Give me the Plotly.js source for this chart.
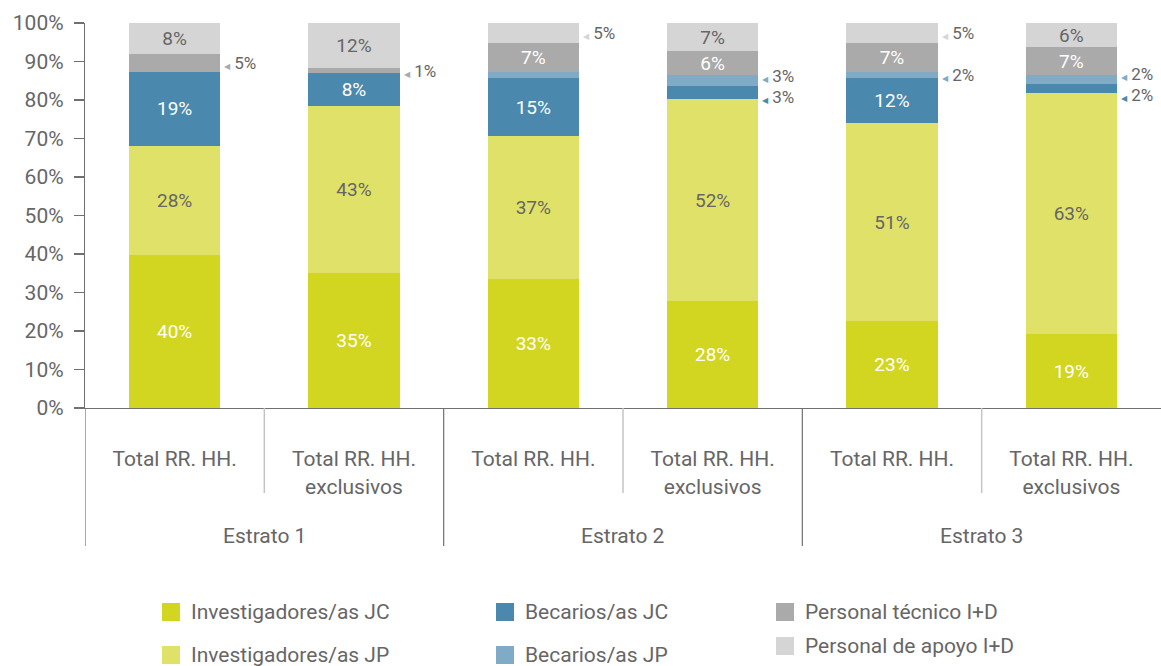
<!DOCTYPE html>
<html>
<head>
<meta charset="utf-8">
<script src="https://cdn.plot.ly/plotly-3.0.1.min.js"></script>
<style>
  html, body { margin: 0; padding: 0; background: #ffffff; }
  #chart { width: 1161px; height: 666px; }
</style>
</head>
<body>
<div id="chart"></div>
<script>
// ---- data ----
const groups = ['Estrato 1', 'Estrato 2', 'Estrato 3'];
const subLabels = ['Total RR. HH.', 'Total RR. HH.<br>exclusivos'];
const seriesNames = ['Investigadores/as JC', 'Investigadores/as JP', 'Becarios/as JC',
                     'Becarios/as JP', 'Personal técnico I+D', 'Personal de apoyo I+D'];
const invJC   = [39.8, 35.1, 33.4, 27.8, 22.6, 19.2];
const invJP   = [28.2, 43.4, 37.3, 52.4, 51.3, 62.6];
const becJC   = [19.4,  8.4, 14.9,  3.4, 11.7,  2.3];
const becJP   = [ 0.0,  0.0,  1.8,  2.9,  1.8,  2.4];
const tecnico = [ 4.6,  1.3,  7.3,  6.1,  7.3,  7.2];
const apoyo   = [ 8.0, 11.8,  5.3,  7.4,  5.3,  6.3];
const yTicks  = [0, 10, 20, 30, 40, 50, 60, 70, 80, 90, 100];
// labels not drawn: [seriesIndex, barIndex]
const hiddenLabels = [[3, 2]];

// ---- style ----
const FONT = 'Roboto, "Open Sans", sans-serif';
const TXT = '#666666';
const colors = ['#d3d621', '#e0e168', '#4a89ad', '#80abc6', '#aaaaaa', '#d5d5d5'];
const insideTextColors = ['#ffffff', '#666666', '#ffffff', '#ffffff', '#ffffff', '#666666'];
const series = [invJC, invJP, becJC, becJP, tecnico, apoyo];
const INSIDE_MIN = 5.8;
const BARGAP = 0.49;

const M = {l: 85, r: 0, t: 23, b: 258};
const W = 1161, H = 666;
const plotH = H - M.t - M.b;

// categories: two per group
const cats = [];
groups.forEach(g => subLabels.forEach(s => cats.push({g, s})));
const xIdx = cats.map((_, i) => i);

function isHidden(si, bi) { return hiddenLabels.some(h => h[0] === si && h[1] === bi); }

const traces = series.map((vals, si) => ({
  type: 'bar',
  name: seriesNames[si],
  x: xIdx,
  y: vals,
  marker: {color: colors[si], line: {width: 0}},
  text: vals.map((v, bi) => (v >= INSIDE_MIN && !isHidden(si, bi)) ? Math.round(v) + '%' : ''),
  textposition: 'inside',
  insidetextanchor: 'middle',
  textangle: 0,
  constraintext: 'none',
  textfont: {family: FONT, size: 19, color: insideTextColors[si]},
  hoverinfo: 'name+y',
  showlegend: false
}));

const annotations = [];
const shapes = [];

// outside labels for small segments
const pxPerUnit = plotH / 100;
const MIN_GAP = 21;
xIdx.forEach(bi => {
  let cum = 0;
  const labs = [];
  series.forEach((vals, si) => {
    const v = vals[bi];
    const mid = cum + v / 2;
    cum += v;
    if (v > 0 && v < INSIDE_MIN && !isHidden(si, bi)) {
      labs.push({si, v, mid, shift: 0});
    }
  });
  // simple repel (yshift is positive upwards)
  for (let k = 1; k < labs.length; k++) {
    const a = labs[k - 1], b = labs[k];
    const d = (b.mid - a.mid) * pxPerUnit + (b.shift - a.shift);
    if (d < MIN_GAP) {
      const push = (MIN_GAP - d) / 2;
      a.shift -= push; b.shift += push;
    }
  }
  labs.forEach(l => {
    annotations.push({
      x: bi + (1 - BARGAP) / 2, y: l.mid, xref: 'x', yref: 'y',
      xanchor: 'left', yanchor: 'middle', xshift: 3, yshift: l.shift,
      showarrow: false, borderpad: 0,
      text: '<span style="color:' + colors[l.si] + ';font-size:8px">◀</span> ' + Math.round(l.v) + '%',
      font: {family: FONT, size: 17, color: TXT}
    });
  });
});

// separators below the axis
xIdx.forEach(i => {
  if (i === 0) {
    shapes.push({type: 'line', xref: 'x', yref: 'paper', ysizemode: 'pixel', yanchor: 0,
      x0: i - 0.5, x1: i - 0.5, y0: 0, y1: -138, line: {color: '#707070', width: 1.2}});
  }
  const boundary = i + 0.5;
  if (i === xIdx.length - 1) return;
  const isGroupEdge = (i + 1) % subLabels.length === 0;
  shapes.push({type: 'line', xref: 'x', yref: 'paper', ysizemode: 'pixel', yanchor: 0,
    x0: boundary, x1: boundary, y0: 0, y1: isGroupEdge ? -138 : -85,
    line: {color: isGroupEdge ? '#707070' : '#c4c4c4', width: isGroupEdge ? 1.2 : 1.5}});
});

// group labels
groups.forEach((g, gi) => {
  const center = gi * subLabels.length + (subLabels.length - 1) / 2;
  annotations.push({
    x: center, y: 0, xref: 'x', yref: 'paper', yshift: -128,
    xanchor: 'center', yanchor: 'middle', showarrow: false,
    text: g, font: {family: FONT, size: 21, color: TXT}
  });
});

// custom legend (column-wise, as in the reference)
const px2x = px => (px - M.l) / (W - M.l - M.r);
const px2y = py => (H - M.b - py) / plotH;
const legendItems = [
  {si: 0, x: 162, y: 612}, {si: 1, x: 162, y: 655},
  {si: 2, x: 496, y: 612}, {si: 3, x: 496, y: 655},
  {si: 4, x: 776, y: 612}, {si: 5, x: 776, y: 646}
];
legendItems.forEach(it => {
  shapes.push({type: 'rect', xref: 'paper', yref: 'paper', layer: 'above',
    x0: px2x(it.x), x1: px2x(it.x + 18), y0: px2y(it.y - 9), y1: px2y(it.y + 9),
    fillcolor: colors[it.si], line: {width: 0}});
  annotations.push({
    x: px2x(it.x + 27), y: px2y(it.y), xref: 'paper', yref: 'paper',
    xanchor: 'left', yanchor: 'middle', showarrow: false,
    text: seriesNames[it.si], font: {family: FONT, size: 21, color: TXT}
  });
});

const layout = {
  width: W, height: H,
  margin: M,
  paper_bgcolor: '#ffffff', plot_bgcolor: '#ffffff',
  barmode: 'stack',
  bargap: BARGAP,
  showlegend: false,
  font: {family: FONT, color: TXT},
  uniformtext: {mode: 'show', minsize: 19},
  xaxis: {
    range: [-0.5, xIdx.length - 0.5],
    tickmode: 'array', tickvals: xIdx, ticktext: cats.map(c => c.s),
    ticks: 'outside', ticklen: 32, tickcolor: 'rgba(0,0,0,0)',
    showline: true, linecolor: '#707070', linewidth: 1.2,
    showgrid: false, zeroline: false, fixedrange: true,
    tickfont: {family: FONT, size: 21, color: TXT}
  },
  yaxis: {
    range: [0, 100],
    tickmode: 'array', tickvals: yTicks, ticktext: yTicks.map(v => v + '%'),
    ticks: 'outside', ticklen: 10, tickcolor: '#707070', tickwidth: 1.2,
    showline: true, linecolor: '#707070', linewidth: 1.2,
    showgrid: false, zeroline: false, fixedrange: true,
    ticklabelstandoff: 6,
    tickfont: {family: FONT, size: 21, color: TXT}
  },
  annotations, shapes
};

Plotly.newPlot('chart', traces, layout, {displayModeBar: false, staticPlot: true});
</script>
</body>
</html>
